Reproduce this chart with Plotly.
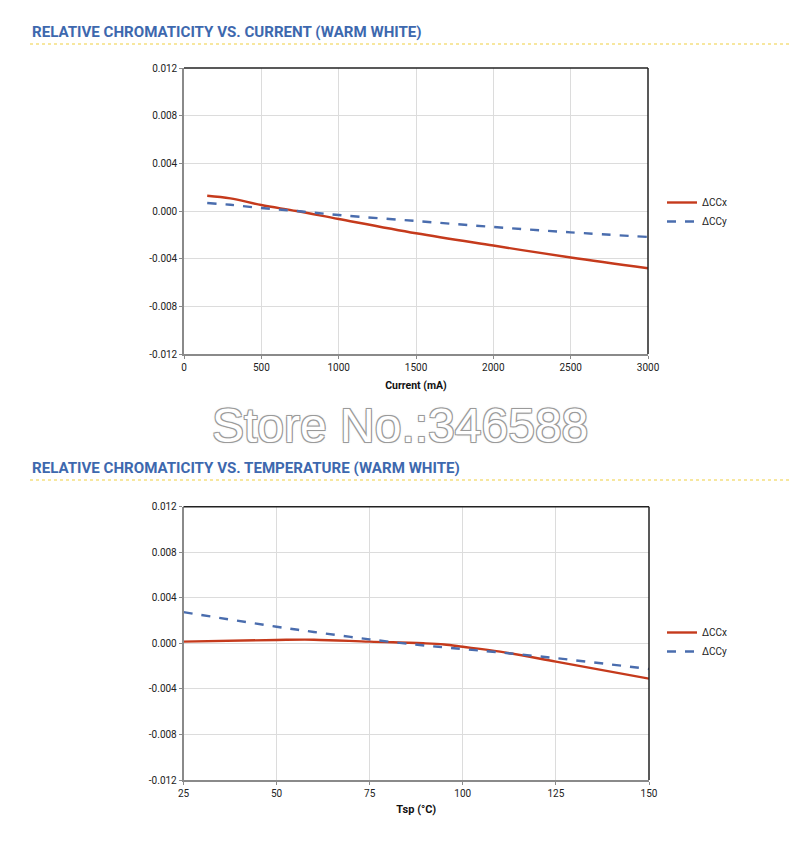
import plotly.graph_objects as go

# ---- data ----
current_ma = [150, 300, 500, 728, 1000, 1500, 2000, 2500, 3000]
ccx_current = [0.00128, 0.00106, 0.0005, 0.0, -0.00067, -0.00187, -0.0029, -0.0039, -0.0048]
ccy_current = [0.00067, 0.00052, 0.00025, 0.0, -0.00034, -0.00084, -0.00134, -0.00179, -0.00218]

temp_c = [25, 50, 60, 75, 90, 95, 100, 110, 125, 150]
ccx_temp = [0.00015, 0.0003, 0.00032, 0.00015, 0.0, -0.0001, -0.0003, -0.00073, -0.0016, -0.0031]
ccy_temp = [0.00274, 0.00146, 0.0010, 0.00035, -0.0002, -0.00035, -0.0005, -0.0008, -0.0013, -0.00225]

y_tickvals = [-0.012, -0.008, -0.004, 0.0, 0.004, 0.008, 0.012]
y_ticktext = ["-0.012", "-0.008", "-0.004", "0.000", "0.004", "0.008", "0.012"]
current_ticks = [0, 500, 1000, 1500, 2000, 2500, 3000]
temp_ticks = [25, 50, 75, 100, 125, 150]

series_names = ["ΔCCx", "ΔCCy"]
titles = ["RELATIVE CHROMATICITY VS. CURRENT (WARM WHITE)",
          "RELATIVE CHROMATICITY VS. TEMPERATURE (WARM WHITE)"]
x_titles = ["Current (mA)", "Tsp (°C)"]
watermark = "Store No.:346588"

RED = "#C53A1C"
BLUE = "#4A6DAE"
TITLE_BLUE = "#3D68AE"
W, H = 800, 853
OFF = 8  # page body margin


def px(x):
    return (x - OFF) / W


def py(y):
    return 1 - (y - OFF) / H


fig = go.Figure()
fig.add_trace(go.Scatter(x=current_ma, y=ccx_current, name=series_names[0], mode="lines",
                         line=dict(color=RED, width=2.4, shape="spline"), xaxis="x", yaxis="y", legend="legend"))
fig.add_trace(go.Scatter(x=current_ma, y=ccy_current, name=series_names[1], mode="lines",
                         line=dict(color=BLUE, width=2.4, dash="dash", shape="spline"), xaxis="x", yaxis="y", legend="legend"))
fig.add_trace(go.Scatter(x=temp_c, y=ccx_temp, name=series_names[0], mode="lines",
                         line=dict(color=RED, width=2.4, shape="spline"), xaxis="x2", yaxis="y2", legend="legend2"))
fig.add_trace(go.Scatter(x=temp_c, y=ccy_temp, name=series_names[1], mode="lines",
                         line=dict(color=BLUE, width=2.4, dash="dash", shape="spline"), xaxis="x2", yaxis="y2", legend="legend2"))

tickfont = dict(family="Roboto", size=10, color="#222")
axis_common = dict(showgrid=True, gridcolor="#dcdcdc", gridwidth=1, showline=True, linecolor="#8a8a8a",
                   linewidth=1.5, ticks="outside", ticklen=3, tickcolor="#8a8a8a", tickfont=tickfont,
                   zeroline=False, automargin=False)

dom1_y = [py(354), py(68)]
dom2_y = [py(780), py(506.7)]
dom1_x = [px(184), px(648)]
dom2_x = [px(183.5), px(649)]

fig.update_layout(
    width=W, height=H, margin=dict(l=0, r=0, t=0, b=0, autoexpand=False),
    paper_bgcolor="white", plot_bgcolor="white",
    xaxis=dict(domain=dom1_x, anchor="y", range=[0, 3000], tickvals=current_ticks,
               title=dict(text="<b>" + x_titles[0] + "</b>", font=dict(family="Roboto", size=10.5, color="#111"), standoff=10),
               **axis_common),
    yaxis=dict(domain=dom1_y, anchor="x", range=[-0.012, 0.012], tickvals=y_tickvals, ticktext=y_ticktext, **axis_common),
    xaxis2=dict(domain=dom2_x, anchor="y2", range=[25, 150], tickvals=temp_ticks,
                title=dict(text="<b>" + x_titles[1] + "</b>", font=dict(family="Roboto", size=11, color="#111"), standoff=8),
                **axis_common),
    yaxis2=dict(domain=dom2_y, anchor="x2", range=[-0.012, 0.012], tickvals=y_tickvals, ticktext=y_ticktext, **axis_common),
    legend=dict(x=px(662), y=py(212), xanchor="left", yanchor="middle", font=dict(family="Roboto", size=10, color="#222"),
                bgcolor="rgba(0,0,0,0)", itemwidth=30, tracegroupgap=2),
    legend2=dict(x=px(662), y=py(642), xanchor="left", yanchor="middle", font=dict(family="Roboto", size=10, color="#222"),
                 bgcolor="rgba(0,0,0,0)", itemwidth=30, tracegroupgap=2),
    showlegend=True,
)

# dark top/right frame of each plot
for xd, yd in [(dom1_x, dom1_y), (dom2_x, dom2_y)]:
    fig.add_shape(type="line", xref="paper", yref="paper", x0=xd[0], x1=xd[1], y0=yd[1], y1=yd[1],
                  line=dict(color="#222", width=1.5))
    fig.add_shape(type="line", xref="paper", yref="paper", x0=xd[1], x1=xd[1], y0=yd[0], y1=yd[1],
                  line=dict(color="#222", width=1.5))

# titles and yellow dotted rules
for title, ty, ly in [(titles[0], 32, 44), (titles[1], 468, 480)]:
    fig.add_annotation(text="<b>" + title + "</b>", xref="paper", yref="paper", x=px(30), y=py(ty),
                       xanchor="left", yanchor="middle", showarrow=False,
                       font=dict(family="Roboto", size=15.1, color=TITLE_BLUE))
    fig.add_shape(type="line", xref="paper", yref="paper", x0=px(30), x1=1, y0=py(ly), y1=py(ly),
                  line=dict(color="#F0D040", width=1.2, dash="dot"))

# watermark
fig.add_annotation(text=watermark, xref="paper", yref="paper", x=px(400), y=py(425),
                   xanchor="center", yanchor="middle", showarrow=False,
                   font=dict(family="Liberation Sans", size=48, color="white",
                             shadow="1px 1px 0 #9a9a9a, -1px -1px 0 #9a9a9a, 1px -1px 0 #9a9a9a, -1px 1px 0 #9a9a9a, 0 0 3px #bbb"))

fig.write_html("out.html")
